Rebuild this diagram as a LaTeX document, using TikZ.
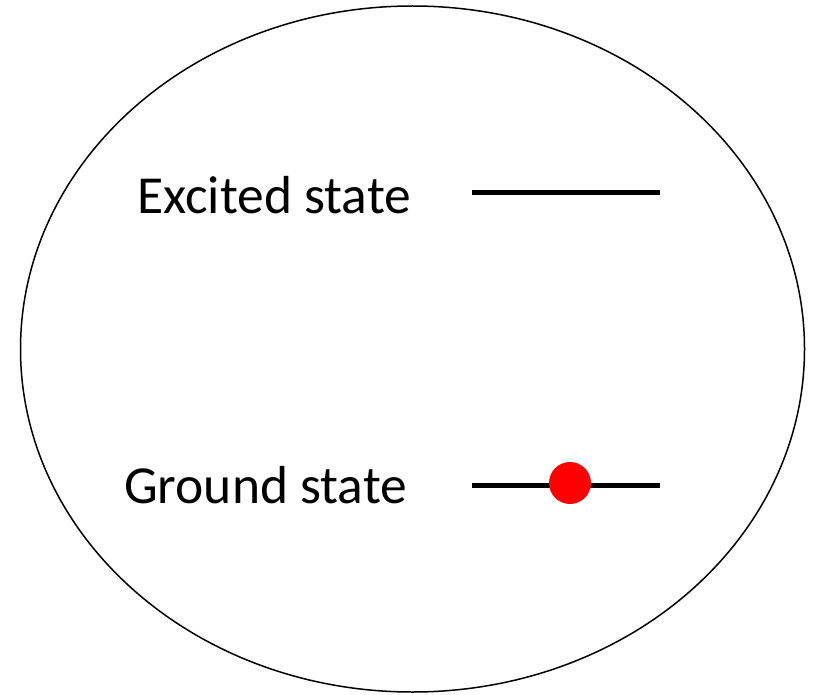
\documentclass[tikz,border=0pt]{standalone}
\usepackage{fontspec}
\setmainfont{Carlito}
\begin{document}
\begin{tikzpicture}[x=1pt,y=-1pt,
  lbl/.style={font=\fontsize{53.5}{60}\selectfont, anchor=base west, inner sep=0pt},
  level/.style={line width=5pt}]
\useasboundingbox (0,0) rectangle (813,695);
\draw[line width=1.5pt] (412.5,349) ellipse [x radius=392, y radius=343];
\node[lbl] (ex) at (137,213) {Excited state};
\node[lbl] (gr) at (124,503) {Ground state};
\coordinate (e1) at (472,192);
\coordinate (e2) at (660,192);
\coordinate (g1) at (472,485);
\coordinate (g2) at (660,485);
\draw[level] (e1) -- (e2);
\draw[level] (g1) -- (g2);
\fill[red] (570,483) ellipse [x radius=21, y radius=21];
\end{tikzpicture}
\end{document}
